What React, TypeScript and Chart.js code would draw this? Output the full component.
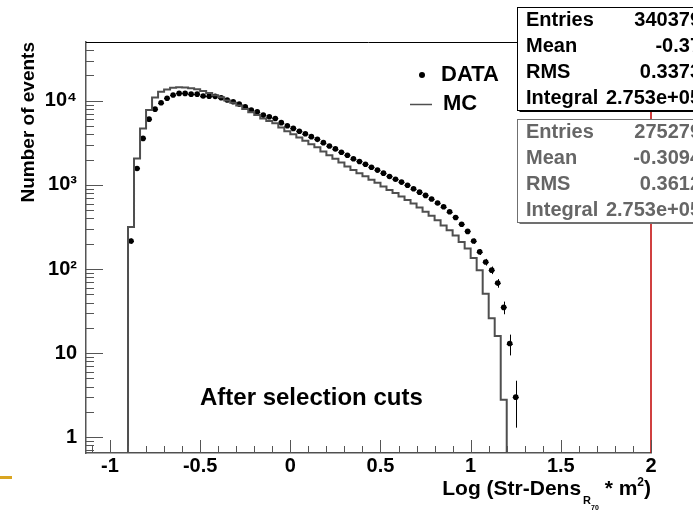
import React, { useEffect, useRef } from 'react';
import { Chart, registerables } from 'chart.js';

Chart.register(...registerables);

// ---------------- data ----------------
const binEdges = [
  -0.9, -0.8667, -0.8333, -0.8, -0.7667, -0.7333, -0.7, -0.6667, -0.6333, -0.6,
  -0.5667, -0.5333, -0.5, -0.4667, -0.4333, -0.4, -0.3667, -0.3333, -0.3, -0.2667,
  -0.2333, -0.2, -0.1667, -0.1333, -0.1, -0.0667, -0.0333, 0, 0.0333, 0.0667,
  0.1, 0.1333, 0.1667, 0.2, 0.2333, 0.2667, 0.3, 0.3333, 0.3667, 0.4,
  0.4333, 0.4667, 0.5, 0.5333, 0.5667, 0.6, 0.6333, 0.6667, 0.7, 0.7333,
  0.7667, 0.8, 0.8333, 0.8667, 0.9, 0.9333, 0.9667, 1, 1.0333, 1.0667,
  1.1, 1.1333, 1.1667, 1.2, 1.2333, 1.2667,
];

const dataCounts = [
  215, 1570, 3570, 6050, 7960, 9470, 10700, 11700, 12250, 12250,
  12000, 12000, 11400, 11350, 11300, 10850, 10200, 9730, 9140, 8480,
  7750, 7400, 6760, 6450, 6170, 5500, 5050, 4700, 4350, 4050,
  3750, 3480, 3180, 2900, 2680, 2450, 2250, 2050, 1900, 1760,
  1620, 1500, 1380, 1260, 1170, 1080, 990, 900, 820, 750,
  680, 610, 550, 480, 410, 340, 280, 215, 160, 121,
  97, 68, 35, 13, 3,
];

const dataErrors = [
  15, 40, 60, 78, 89, 97, 103, 108, 111, 111,
  110, 110, 107, 107, 106, 104, 101, 99, 96, 92,
  88, 86, 82, 80, 79, 74, 71, 69, 66, 64,
  61, 59, 56, 54, 52, 49, 47, 45, 44, 42,
  40, 39, 37, 35, 34, 33, 31, 30, 29, 27,
  26, 25, 23, 22, 20, 18, 17, 15, 13, 11,
  10, 8, 6, 3.6, 1.7,
];

const mcCounts = [
  316, 2060, 4690, 7750, 10970, 12800, 13650, 14300, 14500, 14400,
  14100, 13700, 13100, 12400, 11600, 11000, 10100, 9500, 8800, 8000,
  7300, 6800, 6150, 5750, 5400, 4800, 4350, 4000, 3650, 3350,
  3050, 2800, 2500, 2250, 2050, 1850, 1650, 1500, 1380, 1270,
  1150, 1060, 960, 870, 800, 730, 660, 600, 540, 480,
  430, 380, 330, 290, 250, 210, 175, 135, 97, 51,
  26, 16, 2.8,
];

const xMin = -1.133;
const xMax = 2;
const yMin = 0.65;
const yMax = 50000;

const xTickValues = [-1, -0.5, 0, 0.5, 1, 1.5, 2];
const xTickLabels = ['-1', '-0.5', '0', '0.5', '1', '1.5', '2'];
const xMinorTicks = [
  -1.1, -0.9, -0.8, -0.7, -0.6, -0.4, -0.3, -0.2, -0.1, 0.1, 0.2, 0.3, 0.4,
  0.6, 0.7, 0.8, 0.9, 1.1, 1.2, 1.3, 1.4, 1.6, 1.7, 1.8, 1.9,
];

const yTickValues = [1, 10, 100, 1000, 10000];
const yTickLabels = ['1', '10', '10²', '10³', '10⁴'];
const yDecades = [0.1, 1, 10, 100, 1000, 10000];
const yMinorMultipliers = [2, 3, 4, 5, 6, 7, 8, 9];

const xTitleParts = ['Log (Str-Dens', 'R', '70', ' * m', '2', ')'];
const yTitle = 'Number of events';
const annotationText = 'After selection cuts';

const statsLabels = ['Entries', 'Mean', 'RMS', 'Integral'];
const dataStats = ['340379', '-0.37', '0.3373', '2.753e+05'];
const mcStats = ['275279', '-0.3094', '0.3612', '2.753e+05'];

// ---------------- styling ----------------
const FONT = '"Liberation Sans", Arial, Helvetica, sans-serif';
const MC_COLOR = '#4f4f4f';
const AXIS_COLOR = '#555555';

const mcPoints: { x: number; y: number }[] = [];
mcPoints.push({ x: binEdges[0], y: yMin });
mcCounts.forEach((v, i) => {
  mcPoints.push({ x: binEdges[i], y: v });
  mcPoints.push({ x: binEdges[i + 1], y: v });
});
mcPoints.push({ x: binEdges[mcCounts.length], y: yMin });
mcPoints.push({ x: binEdges[0], y: yMin });

const dataPoints = dataCounts.map((v, i) => ({
  x: (binEdges[i] + binEdges[i + 1]) / 2,
  y: v,
}));

const rootPlugin = {
  id: 'rootDecor',
  beforeDatasetsDraw(chart: any) {
    const { ctx, scales } = chart;
    const x = scales.x;
    const y = scales.y;
    ctx.save();
    ctx.strokeStyle = '#000';
    ctx.lineWidth = 1;
    dataCounts.forEach((v, i) => {
      const lo = binEdges[i];
      const hi = binEdges[i + 1];
      const cx = Math.round(x.getPixelForValue((lo + hi) / 2)) + 0.5;
      const cy = Math.round(y.getPixelForValue(v)) + 0.5;
      const e = dataErrors[i];
      ctx.beginPath();
      ctx.moveTo(x.getPixelForValue(lo), cy);
      ctx.lineTo(x.getPixelForValue(hi), cy);
      ctx.moveTo(cx, y.getPixelForValue(v + e));
      ctx.lineTo(cx, y.getPixelForValue(Math.max(v - e, yMin)));
      ctx.stroke();
    });
    ctx.restore();
  },
  afterDraw(chart: any) {
    const { ctx, chartArea, scales } = chart;
    const x = scales.x;
    const y = scales.y;
    const { left, right, top, bottom } = chartArea;
    ctx.save();

    // top frame
    ctx.strokeStyle = '#000';
    ctx.lineWidth = 1;
    ctx.beginPath();
    ctx.moveTo(left, Math.round(top) + 0.5);
    ctx.lineTo(right, Math.round(top) + 0.5);
    ctx.stroke();

    // right frame (red)
    ctx.strokeStyle = '#c00000';
    ctx.lineWidth = 1.5;
    ctx.beginPath();
    ctx.moveTo(right, top);
    ctx.lineTo(right, bottom);
    ctx.stroke();

    // y ticks (inside)
    ctx.strokeStyle = AXIS_COLOR;
    ctx.lineWidth = 1;
    ctx.beginPath();
    yTickValues.forEach((v) => {
      const py = Math.round(y.getPixelForValue(v)) + 0.5;
      ctx.moveTo(left, py);
      ctx.lineTo(left + 17, py);
    });
    yDecades.forEach((d) => {
      yMinorMultipliers.forEach((m) => {
        const v = d * m;
        if (v <= yMin || v >= yMax) return;
        const py = Math.round(y.getPixelForValue(v)) + 0.5;
        ctx.moveTo(left, py);
        ctx.lineTo(left + 8, py);
      });
    });
    // x ticks (inside)
    xTickValues.forEach((v) => {
      const px = Math.round(x.getPixelForValue(v)) + 0.5;
      ctx.moveTo(px, bottom);
      ctx.lineTo(px, bottom - 13);
    });
    xMinorTicks.forEach((v) => {
      const px = Math.round(x.getPixelForValue(v)) + 0.5;
      ctx.moveTo(px, bottom);
      ctx.lineTo(px, bottom - 7);
    });
    ctx.stroke();

    // x axis title with sub/superscripts
    const sizes = [21, 11, 7, 21, 12, 21];
    const dys = [0, 9, 15, 0, -9, 0];
    const gaps = [0, 2, 0, 0, 0, 0];
    let total = 0;
    const widths = xTitleParts.map((t, i) => {
      ctx.font = `bold ${sizes[i]}px ${FONT}`;
      const w = ctx.measureText(t).width + gaps[i];
      total += w;
      return w;
    });
    let cx = right - total;
    const base = 495;
    ctx.fillStyle = '#000';
    ctx.textBaseline = 'alphabetic';
    ctx.textAlign = 'left';
    xTitleParts.forEach((t, i) => {
      ctx.font = `bold ${sizes[i]}px ${FONT}`;
      ctx.fillText(t, cx + gaps[i], base + dys[i]);
      cx += widths[i];
    });

    // annotation
    ctx.font = `bold 24px ${FONT}`;
    ctx.textBaseline = 'middle';
    ctx.fillText(annotationText, 200, y.getPixelForValue(2.9));

    // legend
    const dsData = chart.data.datasets[1];
    const dsMc = chart.data.datasets[0];
    ctx.font = `bold 22px ${FONT}`;
    ctx.beginPath();
    ctx.arc(422, 75, 3, 0, Math.PI * 2);
    ctx.fill();
    ctx.fillText(dsData.label, 441, 75);
    ctx.strokeStyle = MC_COLOR;
    ctx.lineWidth = 1.5;
    ctx.beginPath();
    ctx.moveTo(410, 104.5);
    ctx.lineTo(432, 104.5);
    ctx.stroke();
    ctx.fillText(dsMc.label, 443, 104);

    // stats boxes
    const drawBox = (top0: number, bot0: number, values: string[], color: string, textColor: string) => {
      const bx = 517.5;
      const bw = 200;
      ctx.fillStyle = color;
      ctx.fillRect(bx + 2, top0 + 2, bw, bot0 - top0);
      ctx.fillStyle = '#fff';
      ctx.fillRect(bx, top0, bw, bot0 - top0);
      ctx.strokeStyle = color;
      ctx.lineWidth = 1;
      ctx.strokeRect(bx, top0 + 0.5, bw, bot0 - top0);
      ctx.font = `bold 20px ${FONT}`;
      ctx.fillStyle = textColor;
      ctx.textBaseline = 'middle';
      const rowH = (bot0 - top0) / statsLabels.length;
      statsLabels.forEach((lab, i) => {
        const ry = top0 + rowH * (i + 0.5) + 1;
        ctx.textAlign = 'left';
        ctx.fillText(lab, 526, ry);
        ctx.textAlign = 'right';
        ctx.fillText(values[i], 701, ry);
      });
      ctx.textAlign = 'left';
    };
    drawBox(7, 110, dataStats, '#000', '#000');
    drawBox(119, 222, mcStats, '#707070', '#666666');

    // gold slide decoration
    ctx.fillStyle = '#d9a521';
    ctx.fillRect(0, 476, 12, 3);

    ctx.restore();
  },
};

export default function App() {
  const ref = useRef<HTMLCanvasElement>(null);

  useEffect(() => {
    document.body.style.margin = '0';
    document.body.style.overflow = 'hidden';
    Chart.defaults.font.family = FONT;
    const canvas = ref.current;
    if (!canvas) return;
    const chart = new Chart(canvas, {
      type: 'scatter',
      data: {
        datasets: [
          {
            label: 'MC',
            data: mcPoints,
            showLine: true,
            borderColor: MC_COLOR,
            borderWidth: 2,
            pointRadius: 0,
            tension: 0,
            fill: false,
          } as any,
          {
            label: 'DATA',
            data: dataPoints,
            showLine: false,
            pointRadius: 2.8,
            pointStyle: 'circle',
            backgroundColor: '#000',
            borderColor: '#000',
            pointBorderWidth: 0,
          } as any,
        ],
      },
      options: {
        responsive: false,
        animation: false,
        devicePixelRatio: 1,
        layout: { padding: { top: 42, right: 42, left: 0, bottom: 0 } },
        plugins: {
          legend: { display: false },
          tooltip: { enabled: false },
        },
        scales: {
          x: {
            type: 'linear',
            min: xMin,
            max: xMax,
            afterBuildTicks: (scale: any) => {
              scale.ticks = xTickValues.map((v) => ({ value: v }));
            },
            afterFit: (scale: any) => {
              scale.height = 60;
            },
            ticks: {
              autoSkip: false,
              maxRotation: 0,
              padding: 1,
              color: '#000',
              font: { size: 20, weight: 'bold', family: FONT },
              callback: (_v: any, i: number) => xTickLabels[i],
            },
            grid: { display: false, drawTicks: false },
            border: { display: true, color: AXIS_COLOR, width: 1.5 },
          },
          y: {
            type: 'logarithmic',
            min: yMin,
            max: yMax,
            afterBuildTicks: (scale: any) => {
              scale.ticks = yTickValues.map((v) => ({ value: v, major: true }));
            },
            afterFit: (scale: any) => {
              scale.width = 86;
            },
            ticks: {
              autoSkip: false,
              padding: 9,
              color: '#000',
              font: { size: 20, weight: 'bold', family: FONT },
              callback: (_v: any, i: number) => yTickLabels[i],
            },
            title: {
              display: true,
              text: yTitle,
              align: 'end',
              color: '#000',
              font: { size: 19, weight: 'bold', family: FONT },
              padding: { top: 17, bottom: 0 },
            },
            grid: { display: false, drawTicks: false },
            border: { display: true, color: AXIS_COLOR, width: 1.5 },
          },
        },
      } as any,
      plugins: [rootPlugin],
    });
    return () => chart.destroy();
  }, []);

  return (
    <div style={{ width: 693, height: 513, position: 'relative', background: '#fff', overflow: 'hidden' }}>
      <canvas
        ref={ref}
        width={693}
        height={513}
        style={{ display: 'block', width: '693px', height: '513px' }}
      />
    </div>
  );
}
